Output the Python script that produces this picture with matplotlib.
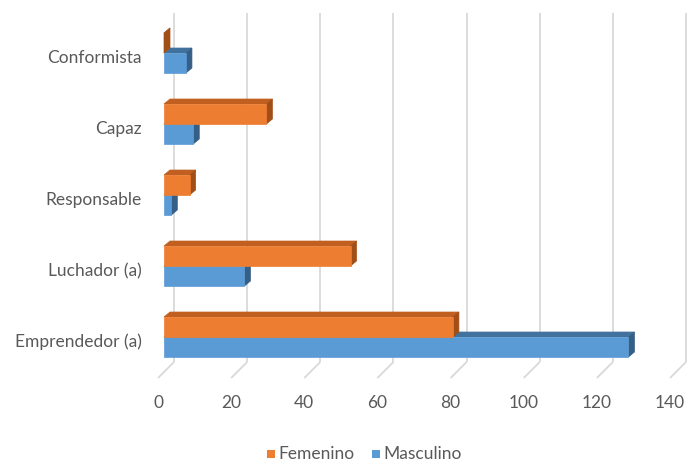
import matplotlib
matplotlib.use("Agg")
import matplotlib.pyplot as plt
from matplotlib.patches import Polygon, Rectangle

# Data
categories = ["Conformista", "Capaz", "Responsable", "Luchador (a)", "Emprendedor (a)"]
femenino = [0, 28, 7, 51, 79]
masculino = [6, 8, 2, 22, 127]
series_names = ["Femenino", "Masculino"]
x_ticks = [0, 20, 40, 60, 80, 100, 120, 140]

W, H, DPI = 694, 463, 100
PX_PER_UNIT = 3.657          # horizontal pixels per value unit
X0_PX = 164                  # pixel position of value 0 on the bar front plane
ROW_PX = 71                  # pixel spacing between category groups
ROW0_PX = 53                 # pixel y of the first group centre

fig = plt.figure(figsize=(W / DPI, H / DPI), dpi=DPI)
ax = fig.add_axes([0, 0, 1, 1])
ax.set_xlim(-X0_PX / PX_PER_UNIT, (W - X0_PX) / PX_PER_UNIT)
ax.set_ylim((H - ROW0_PX) / ROW_PX, -ROW0_PX / ROW_PX)
ax.axis("off")


def dx(px):
    return px / PX_PER_UNIT


def dy(px):
    return px / ROW_PX


font = ["Lato", "DejaVu Sans"]
text_color = "#595959"
grid_color = "#D9D9D9"
fsize = 12.5

# Back-wall gridlines and floor diagonals
wall_shift = dx(10)
floor_top = dy(362 - ROW0_PX)
floor_bot = dy(378 - ROW0_PX)
wall_top = dy(13 - ROW0_PX)
for v in x_ticks:
    xb = v + wall_shift
    ax.plot([xb, xb], [wall_top, floor_top], color=grid_color, lw=1.3,
            solid_capstyle="butt", zorder=1)
    ax.plot([xb, v - dx(6)], [floor_top, floor_bot], color=grid_color,
            lw=1.3, solid_capstyle="butt", zorder=1)
    ax.text(v - dx(6), dy(403 - ROW0_PX), str(v), ha="center", va="center",
            fontsize=fsize, color=text_color, family=font)

bar_h = dy(20)
depth_x, depth_y = dx(6), dy(-5)

colors = {
    "Femenino": ("#ED7D31", "#C05F1F", "#A24E17"),
    "Masculino": ("#5B9BD5", "#41729E", "#355F86"),
}


def bar3d(y_top, value, face, top, side, z):
    x0, x1 = 0, value
    y0, y1 = y_top, y_top + bar_h
    # top face
    ax.add_patch(Polygon([(x0, y0), (x1, y0), (x1 + depth_x, y0 + depth_y),
                          (x0 + depth_x, y0 + depth_y)], closed=True,
                         facecolor=top, edgecolor=top, lw=0.5, zorder=z))
    # side face
    ax.add_patch(Polygon([(x1, y0), (x1 + depth_x, y0 + depth_y),
                          (x1 + depth_x, y1 + depth_y), (x1, y1)], closed=True,
                         facecolor=side, edgecolor=side, lw=0.5, zorder=z))
    # front face
    if value > 0:
        ax.add_patch(Rectangle((x0, y0), x1 - x0, bar_h, facecolor=face,
                               edgecolor=face, lw=0.5, zorder=z + 0.1))


for i, cat in enumerate(categories):
    # masculino (lower) first so femenino front face covers its top face
    fm, tm, sm = colors["Masculino"]
    bar3d(i, masculino[i], fm, tm, sm, 3 + i * 0.01)
    ff, tf, sf = colors["Femenino"]
    bar3d(i - bar_h, femenino[i], ff, tf, sf, 4 + i * 0.01)
    ax.text(-dx(22), i + dy(5), cat, ha="right", va="center",
            fontsize=fsize, color=text_color, family=font)

# Legend
leg_y = dy(454 - ROW0_PX)
for name, xpx in zip(series_names, [267, 372]):
    xs = (xpx - X0_PX) / PX_PER_UNIT
    ax.add_patch(Rectangle((xs, leg_y - dy(4)), dx(8), dy(8),
                           facecolor=colors[name][0], edgecolor="none", zorder=5))
    ax.text(xs + dx(11), leg_y, name, ha="left", va="center",
            fontsize=fsize, color=text_color, family=font)

fig.savefig("out.png", dpi=DPI)
